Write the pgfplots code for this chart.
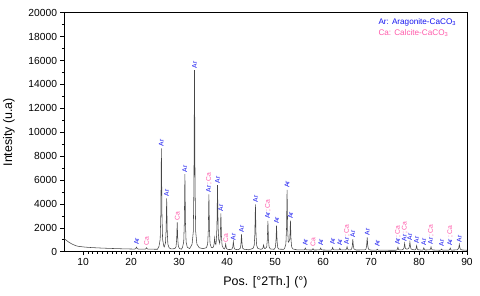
\documentclass[border=0pt]{standalone}
\usepackage{pgfplots}
\pgfplotsset{compat=1.18}
\usepackage{fontspec}
\setmainfont{Liberation Sans}
\definecolor{arblue}{RGB}{20,20,240}
\definecolor{capink}{RGB}{255,90,170}
\definecolor{curve}{RGB}{70,70,70}
\newcommand{\lab}[3]{\node[rotate=90,anchor=west,inner sep=0pt,font=\fontsize{6.8}{7}\selectfont] at (axis cs:#1,#2) {#3};}
\newcommand{\AR}{{\color{arblue}Ar}}
\newcommand{\CA}{{\color{capink}Ca}}
\newcommand{\ARCA}{{\color{arblue}Ar}{\color{capink}\,;\,Ca}}
\begin{document}
\begin{tikzpicture}
\path[use as bounding box] (-64bp,-44.3bp) rectangle (416bp,251.7bp);
\begin{axis}[
  at={(0,0)}, anchor=south west,
  scale only axis, width=403bp, height=239bp,
  xmin=6, xmax=90, ymin=0, ymax=20000,
  xtick={10,20,...,90}, ytick={0,2000,...,20000},
  minor x tick num=9, minor y tick num=1,
  tick align=outside, xtick pos=bottom, ytick pos=left,
  major tick length=3.5bp, minor tick length=2.2bp,
  axis line style={line width=0.9pt},
  every tick/.style={black,line width=0.6pt},
  scaled y ticks=false,
  /pgf/number format/assume math mode=true,
  /pgf/number format/1000 sep={},
  ticklabel style={font=\fontsize{10.3}{12}\selectfont},
  every axis y label/.style={at={(axis description cs:0,0.5)},xshift=-55bp,rotate=90,anchor=center,font=\fontsize{12.5}{14}\selectfont},
  every axis x label/.style={at={(axis description cs:0.5,0)},yshift=-31bp,anchor=center,font=\fontsize{12.5}{14}\selectfont},
  xlabel={Pos. [°2Th.] (°)},
  ylabel={Intesity (u.a)},
  clip=false,
]
\addplot[curve, line width=0.55pt] coordinates {
(6,1100)(6.5,950)(7,800)(7.5,680)(8,580)(8.5,500)(9,450)(10,400)(11,365)(12,340)(14,300)(16,270)(18,245)(20,225)(20.7,220)
(20.85,236)(20.98,276)(21.1,380)(21.22,276)(21.35,236)(21.6,218)
(22.8,212)(22.95,222)(23.08,252)(23.2,330)(23.32,252)(23.45,222)(23.7,210)
(25.5,205)(25.8,454)(26.05,1045)(26.18,3158)(26.3,8650)(26.42,3158)(26.55,1045)(26.8,454)
(26.9,400)(27.15,730)(27.28,1745)(27.4,4470)(27.52,1695)(27.65,627)(27.9,330)(28.3,230)
(29.1,258)(29.35,417)(29.48,985)(29.6,2460)(29.72,985)(29.85,417)(30.1,258)(30.5,210)
(30.7,370)(30.95,812)(31.08,2392)(31.2,6500)(31.32,2392)(31.45,812)(31.7,370)(32.2,260)
(32.7,630)(32.95,1680)(33.08,5437)(33.2,15200)(33.32,5437)(33.45,1680)(33.7,630)(34.2,330)(35,250)
(35.7,340)(35.95,660)(36.08,1810)(36.2,4800)(36.32,1810)(36.45,660)(36.7,360)(37.0,330)
(37.15,420)(37.28,640)(37.4,1150)(37.52,700)(37.65,600)
(37.75,900)(37.88,2100)(38.0,5580)(38.12,2100)(38.25,1000)
(38.45,700)(38.58,1300)(38.7,3210)(38.82,1300)(38.95,540)(39.2,300)
(39.45,230)(39.58,340)(39.7,640)(39.82,340)(39.95,230)(40.3,180)
(40.8,190)(41.05,237)(41.18,405)(41.3,840)(41.42,405)(41.55,237)(41.8,190)(42.3,170)
(42.5,208)(42.75,298)(42.88,618)(43.0,1450)(43.12,618)(43.25,298)(43.5,208)(44.5,160)
(45.4,274)(45.65,539)(45.78,1487)(45.9,3950)(46.02,1487)(46.15,539)(46.4,274)(47.0,200)
(47.35,240)(47.48,340)(47.6,560)(47.72,340)(47.85,260)(48.0,290)
(48.25,400)(48.38,1000)(48.5,2570)(48.62,1000)(48.75,400)(49.0,230)(49.8,200)
(50.05,350)(50.18,860)(50.3,2180)(50.42,860)(50.55,350)(50.8,210)(51.8,200)
(52.0,300)(52.25,650)(52.38,1900)(52.5,5180)(52.62,1900)(52.75,800)(52.95,900)(53.08,1100)(53.2,2600)(53.32,1000)(53.45,400)(53.7,230)(54.5,160)
(56.05,147)(56.18,190)(56.3,300)(56.42,190)(56.55,147)
(57.65,142)(57.78,175)(57.9,250)(58.02,175)(58.15,142)
(59.25,147)(59.38,190)(59.5,300)(59.62,190)(59.75,147)(61.5,130)
(61.75,150)(61.88,200)(62.0,350)(62.12,200)(62.25,150)
(63.25,145)(63.38,180)(63.5,280)(63.62,180)(63.75,145)
(64.75,160)(64.88,230)(65.0,420)(65.12,230)(65.25,160)(65.7,150)
(65.95,220)(66.08,450)(66.2,1040)(66.32,450)(66.45,220)(66.9,140)
(68.7,150)(68.95,230)(69.08,500)(69.2,1200)(69.32,500)(69.45,230)(69.7,150)(70.5,125)
(71.05,128)(71.18,150)(71.3,200)(71.42,150)(71.55,128)(75.1,120)
(75.35,145)(75.48,200)(75.6,370)(75.72,200)(75.85,145)(76.5,160)
(76.75,220)(76.88,350)(77.0,700)(77.12,350)(77.25,230)(77.6,220)
(77.85,280)(77.98,420)(78.1,800)(78.22,420)(78.35,220)(79.0,150)
(79.25,170)(79.38,250)(79.5,500)(79.62,250)(79.75,170)(80.5,130)
(80.75,140)(80.88,190)(81.0,320)(81.12,190)(81.25,140)
(82.25,150)(82.38,220)(82.5,400)(82.62,220)(82.75,150)(84.3,120)
(84.45,130)(84.58,155)(84.7,220)(84.82,155)(84.95,130)
(86.25,135)(86.38,180)(86.5,300)(86.62,180)(86.75,135)(87.9,150)
(88.15,220)(88.28,330)(88.4,620)(88.52,330)(88.65,200)(88.9,150)(90,120)
};
\lab{21.1}{550}{\AR}
\lab{23.2}{500}{\CA}
\lab{26.3}{8800}{\AR}
\lab{27.4}{4620}{\AR}
\lab{29.6}{2610}{\CA}
\lab{31.2}{6650}{\AR}
\lab{33.2}{15350}{\AR}
\lab{36.2}{4950}{\ARCA}
\lab{38.0}{5730}{\AR}
\lab{38.7}{3360}{\AR}
\lab{39.7}{750}{\CA}
\lab{41.3}{950}{\AR}
\lab{43.0}{1600}{\AR}
\lab{45.9}{4100}{\AR}
\lab{48.5}{2720}{\ARCA}
\lab{50.3}{2330}{\AR}
\lab{52.5}{5330}{\AR}
\lab{53.2}{2750}{\AR}
\lab{56.3}{500}{\AR}
\lab{57.9}{450}{\CA}
\lab{59.5}{500}{\AR}
\lab{62.0}{550}{\AR}
\lab{63.5}{500}{\AR}
\lab{65.0}{600}{\ARCA}
\lab{66.2}{1200}{\AR}
\lab{69.2}{1350}{\AR}
\lab{71.3}{400}{\AR}
\lab{75.6}{550}{\ARCA}
\lab{77.0}{850}{\ARCA}
\lab{78.1}{950}{\AR}
\lab{79.5}{700}{\AR}
\lab{81.0}{520}{\AR}
\lab{82.5}{600}{\ARCA}
\lab{84.7}{430}{\AR}
\lab{86.5}{500}{\ARCA}
\lab{88.4}{780}{\AR}
\node[anchor=west,inner sep=0pt,font=\fontsize{8.2}{9}\selectfont,text=arblue] at (rel axis cs:0.78,0.961) {Ar: Aragonite-CaCO\textsubscript{3}};
\node[anchor=west,inner sep=0pt,font=\fontsize{8.2}{9}\selectfont,text=capink] at (rel axis cs:0.78,0.915) {Ca: Calcite-CaCO\textsubscript{3}};
\end{axis}
\end{tikzpicture}
\end{document}
